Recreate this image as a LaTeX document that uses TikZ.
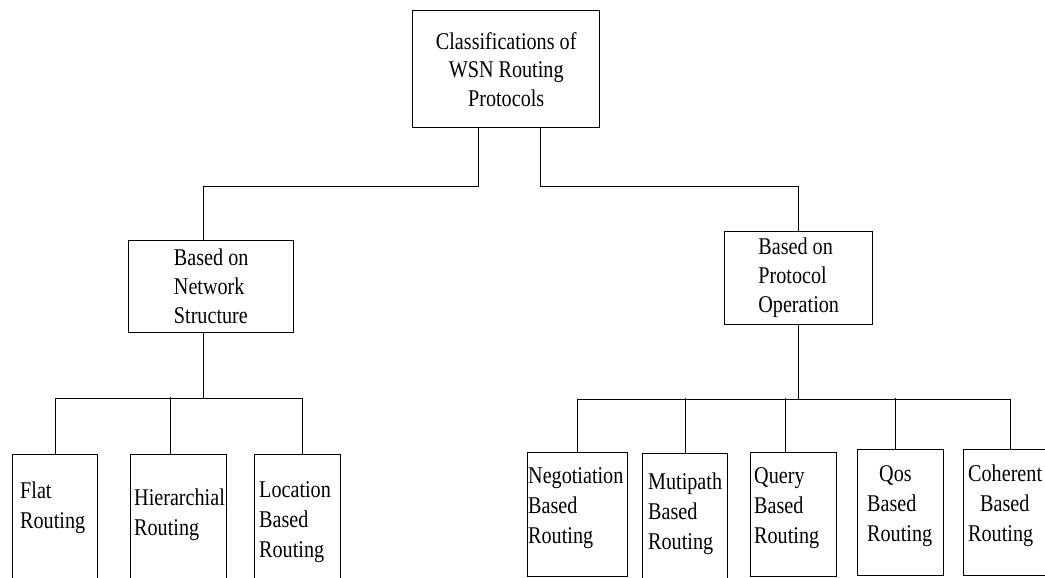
\documentclass[tikz,border=0pt]{standalone}
\usepackage{fontspec}
\setmainfont[FakeStretch=0.84]{Liberation Serif}

\begin{document}
\begin{tikzpicture}
[
    x=1pt, y=-1pt,
    every node/.style={font=\fontsize{24}{29}\selectfont},
    box/.style={draw, line width=1.4pt, inner sep=0pt, anchor=north west},
    leaf/.style={box, minimum height=140pt},
    leaftext/.style={anchor=north west, inner sep=0pt, align=left,
        font=\fontsize{24}{30}\selectfont},
    link/.style={line width=1.4pt},
]
\useasboundingbox (0,0) rectangle (1045,578);

% upper levels
\node [box, minimum width=187pt, minimum height=117pt, align=center,
    font=\fontsize{24}{28.5}\selectfont] (top) at (412,10)
{Classifications of\\WSN Routing\\Protocols};
\node [box, minimum width=165pt, minimum height=92pt, align=left] (netw) at (128,240)
{Based on\\Network\\Structure};
\node [box, minimum width=148pt, minimum height=93pt, align=left] (proto) at (724,231)
{Based on\\Protocol\\Operation};

% leaves, left
\node [leaf, minimum width=85pt] (flat) at (12,454) {};
\node [leaf, minimum width=96pt] (hier) at (130,454) {};
\node [leaf, minimum width=86pt] (loc) at (254,454) {};
\node [leaftext] (flatlbl) at (20,482) {Flat\\Routing};
\node [leaftext] (hierlbl) at (134,489) {Hierarchial\\Routing};
\node [leaftext] (loclbl) at (259,481) {Location\\Based\\Routing};

% leaves, right
\node [box, minimum width=100pt, minimum height=124pt] (nego) at (527,452) {};
\node [leaf, minimum width=85pt] (muti) at (642,453) {};
\node [box, minimum width=86pt, minimum height=124pt] (query) at (750,452) {};
\node [box, minimum width=86pt, minimum height=126pt] (qos) at (857,449) {};
\node [box, minimum width=94pt, minimum height=126pt] (coh) at (963,449) {};
\node [leaftext] (negolbl) at (528,467) {Negotiation\\Based\\Routing};
\node [leaftext] (mutilbl) at (648,473) {Mutipath\\Based\\Routing};
\node [leaftext] (querylbl) at (754,467) {Query\\Based\\Routing};
\node [leaftext] (qoslbl) at (867,465) {\hspace*{12pt}Qos\\Based\\Routing};
\node [leaftext] (cohlbl) at (968,465) {Coherent\\\hspace*{12pt}Based\\Routing};

% connectors
\draw [link] ([xshift=-28pt]top.south) -- ++(0,58) -| ([xshift=-8pt]netw.north);
\draw [link] ([xshift=34pt]top.south) -- ++(0,58) -| (proto.north);

\draw [link] ([xshift=-8pt]netw.south) -- ++(0,65) coordinate (lbar);
\draw [link] (flat.north) |- (lbar);
\draw [link] ([xshift=5pt]loc.north) |- (lbar);
\draw [link] ([xshift=-8pt]hier.north) -- ++(0,-57);

\draw [link] (proto.south) -- ++(0,74) coordinate (rbar);
\draw [link] (nego.north) |- (rbar);
\draw [link] (coh.north) |- (rbar);
\draw [link] (muti.north) -- ++(0,-55);
\draw [link] ([xshift=-8pt]query.north) -- ++(0,-54);
\draw [link] ([xshift=-5pt]qos.north) -- ++(0,-51);
\end{tikzpicture}
\end{document}
